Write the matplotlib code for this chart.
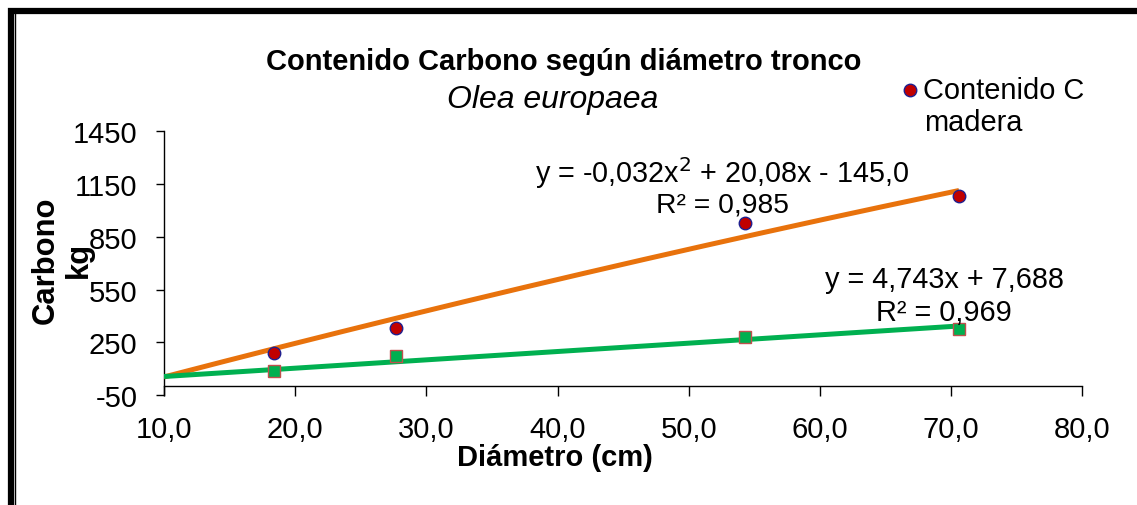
import numpy as np
import matplotlib
matplotlib.use("Agg")
import matplotlib.pyplot as plt
from matplotlib.lines import Line2D
from matplotlib.transforms import ScaledTranslation

plt.rcParams['font.family'] = ['Liberation Sans', 'DejaVu Sans']

# Diameter of the trunk (cm) and carbon content (kg)
diametro = [18.4, 27.7, 54.3, 70.6]
carbono_madera = [187, 329, 928, 1080]
carbono_b = [88, 170, 280, 325]

# Trend line coefficients (highest power first)
coef_cuad = [-0.032, 20.08, -145.0]
coef_lin = [4.743, 7.688]

x_ticks = [10, 20, 30, 40, 50, 60, 70, 80]
x_tick_labels = ["10,0", "20,0", "30,0", "40,0", "50,0", "60,0", "70,0", "80,0"]
y_ticks = [-50, 250, 550, 850, 1150, 1450]
y_tick_labels = ["-50", "250", "550", "850", "1150", "1450"]

W, H = 1137, 506
fig = plt.figure(figsize=(W / 100, H / 100), dpi=100)
fig.patch.set_facecolor('white')

ax = fig.add_axes([164 / W, 1 - 396 / H, (1082.3 - 164) / W, (396 - 132.3) / H])
ax.set_xlim(10, 80)
ax.set_ylim(-50, 1450)

# Trend lines
xt = np.linspace(10, diametro[-1], 200)
ax.plot(xt, np.polyval(coef_cuad, xt), color='#E8720C', lw=3.6, zorder=3,
        solid_capstyle='butt')
ax.plot(xt, np.polyval(coef_lin, xt), color='#00B050', lw=3.6, zorder=3,
        solid_capstyle='butt')

# Data points
ax.plot(diametro, carbono_madera, ls='none', marker='o', ms=9,
        mfc='#C00000', mec='#1F1F8F', mew=1.0, zorder=4)
ax.plot(diametro, carbono_b, ls='none', marker='s', ms=9,
        mfc='#00B050', mec='#C0504D', mew=1.0, zorder=4)

# Axes styling
for s in ['top', 'right']:
    ax.spines[s].set_visible(False)
ax.spines['bottom'].set_position(('data', 0))
ax.spines['left'].set_linewidth(1.0)
ax.spines['bottom'].set_linewidth(1.0)
ax.set_xticks(x_ticks)
ax.set_xticklabels([])
ax.set_yticks(y_ticks)
ax.set_yticklabels(y_tick_labels)
ax.tick_params(axis='y', direction='out', length=6, width=1.0, pad=13,
               labelsize=21)
ax.tick_params(axis='x', direction='out', length=7, width=1.0)

# X tick labels sit below the plot area
low = ax.transData + ScaledTranslation(0, -20 / 100, fig.dpi_scale_trans)
for xv, lab in zip(x_ticks, x_tick_labels):
    ax.text(xv, -50, lab, transform=low, ha='center', va='top',
            fontsize=21, clip_on=False)


def fx(px):
    return px / W


def fy(py):
    return 1 - py / H


# Titles
fig.text(fx(564), fy(62), "Contenido Carbono según diámetro tronco",
         ha='center', va='center', fontsize=21, fontweight='bold')
fig.text(fx(553), fy(100), "Olea europaea", ha='center', va='center',
         fontsize=23, style='italic')

# Axis labels
fig.text(fx(555), fy(458), "Diámetro (cm)", ha='center', va='center',
         fontsize=21, fontweight='bold')
fig.text(fx(62), fy(260), "Carbono\nkg", ha='center', va='center',
         fontsize=22.3, fontweight='bold', rotation=90, linespacing=1.15)

# Trend line equations
fig.text(fx(722), fy(173), "y = -0,032x$^{2}$ + 20,08x - 145,0",
         ha='center', va='center', fontsize=20.7)
fig.text(fx(722), fy(205), "R² = 0,985", ha='center', va='center',
         fontsize=20.3)
fig.text(fx(944), fy(280), "y = 4,743x + 7,688", ha='center', va='center',
         fontsize=20.8)
fig.text(fx(944), fy(313), "R² = 0,969", ha='center', va='center',
         fontsize=20.8)

# Legend
fig.add_artist(Line2D([fx(910)], [fy(91)], ls='none', marker='o', ms=9,
                      mfc='#C00000', mec='#1F1F8F', mew=1.0))
fig.text(fx(923), fy(91), "Contenido C", ha='left', va='center', fontsize=20.9)
fig.text(fx(924), fy(123), "madera", ha='left', va='center', fontsize=20.9)

# Outer frame (top and left edges)
fig.add_artist(Line2D([fx(11), fx(11), 1.0], [0.0, fy(12), fy(12)],
                      color='black', lw=4.5, solid_joinstyle='miter'))
fig.add_artist(Line2D([fx(15), fx(15)], [0.0, fy(15)], color='black', lw=1.0))

fig.savefig("out.png", dpi=100, facecolor='white')
